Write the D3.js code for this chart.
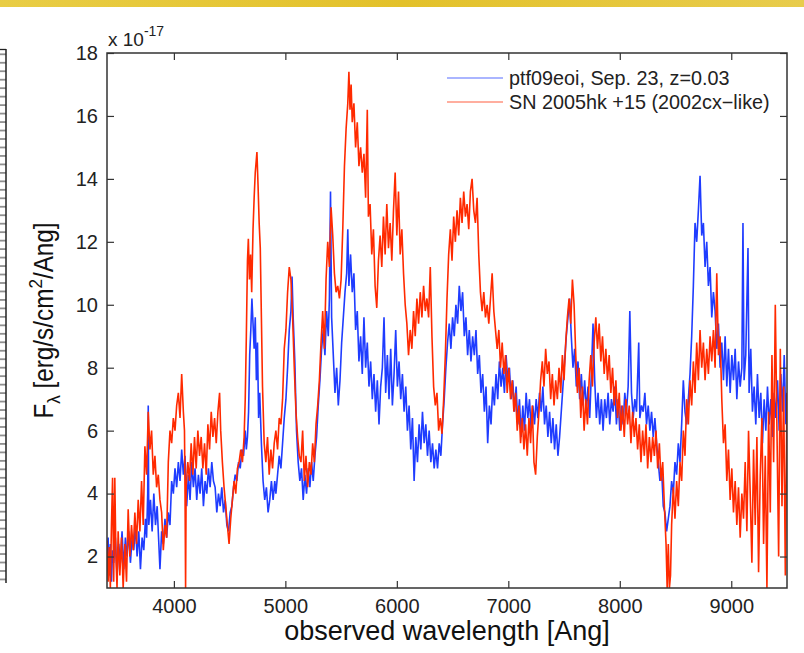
<!DOCTYPE html>
<html>
<head>
<meta charset="utf-8">
<script src="https://cdn.jsdelivr.net/npm/d3@7"></script>
<style>
  body { margin: 0; background: #fff; }
  svg { display: block; font-family: "Liberation Sans", Arial, Helvetica, sans-serif; }
</style>
</head>
<body>
<div id="chart"></div>
<script>
//Espectros: [longitud de onda (Ang), flujo (x 1e-17)]
const ptf09eoi = [[3400,1.6],[3410,2.6],[3420,1.4],[3430,2.4],[3440,1.2],[3450,2.2],[3460,1.8],[3475,2.6],[3490,1.4],[3505,2.4],[3520,1.8],[3535,2.8],[3550,1.6],[3565,2.6],[3580,2.0],[3595,2.8],[3610,1.8],[3625,2.6],[3640,2.2],[3655,3.0],[3670,2.0],[3685,2.8],[3700,1.6],[3715,2.6],[3730,2.2],[3745,3.2],[3755,2.6],[3765,4.0],[3770,6.8],[3775,3.0],[3790,3.8],[3805,2.8],[3820,4.0],[3835,3.0],[3850,3.6],[3865,2.4],[3875,1.6],[3890,2.8],[3905,2.4],[3920,3.2],[3935,2.6],[3950,3.4],[3965,3.0],[3980,4.4],[3995,4.0],[4010,4.8],[4025,4.2],[4040,5.0],[4055,4.4],[4070,5.4],[4085,4.6],[4100,5.2],[4115,3.6],[4130,4.6],[4145,3.8],[4160,5.0],[4175,4.2],[4190,4.8],[4205,3.8],[4220,4.6],[4235,4.0],[4250,4.8],[4265,3.6],[4280,4.4],[4295,4.0],[4310,4.8],[4325,4.2],[4340,5.0],[4355,4.4],[4370,4.2],[4385,3.4],[4400,4.0],[4415,3.6],[4430,4.2],[4445,3.4],[4460,3.8],[4475,3.0],[4490,2.8],[4505,3.4],[4520,3.6],[4535,4.2],[4550,4.6],[4565,4.4],[4580,5.0],[4595,4.8],[4610,5.4],[4625,5.2],[4640,6.0],[4650,5.4],[4660,5.8],[4670,6.6],[4680,8.4],[4690,9.2],[4700,10.2],[4710,9.4],[4720,8.6],[4730,9.6],[4740,7.6],[4750,8.8],[4760,6.4],[4770,7.2],[4785,5.6],[4800,4.4],[4815,3.8],[4830,4.2],[4845,3.4],[4860,3.8],[4875,4.4],[4890,3.8],[4905,4.4],[4915,4.0],[4930,4.6],[4945,5.2],[4960,4.8],[4975,5.6],[4990,6.4],[5005,7.0],[5020,8.0],[5035,9.2],[5050,9.8],[5060,10.9],[5070,9.6],[5085,8.2],[5100,6.0],[5115,5.0],[5130,4.4],[5145,4.8],[5160,3.8],[5175,4.6],[5190,4.0],[5205,4.8],[5220,4.2],[5235,5.0],[5250,4.4],[5265,5.2],[5280,5.8],[5295,6.8],[5310,7.6],[5325,8.6],[5340,9.2],[5355,8.4],[5370,9.8],[5385,9.0],[5395,10.2],[5405,13.6],[5415,9.6],[5430,8.4],[5445,7.2],[5460,8.0],[5475,6.8],[5490,7.6],[5505,8.8],[5520,9.6],[5535,10.4],[5550,11.0],[5560,12.4],[5570,10.6],[5585,11.6],[5600,10.4],[5615,11.0],[5630,9.2],[5645,9.8],[5660,8.2],[5675,9.0],[5690,7.8],[5705,9.6],[5720,8.0],[5735,8.8],[5750,7.4],[5765,8.2],[5780,7.0],[5795,7.8],[5810,6.6],[5825,7.6],[5840,6.2],[5855,7.4],[5870,8.0],[5885,9.6],[5900,7.2],[5915,8.4],[5930,7.0],[5945,8.6],[5960,6.8],[5975,7.8],[5990,9.2],[6005,7.4],[6020,8.2],[6035,7.0],[6050,7.8],[6065,6.6],[6080,7.4],[6095,6.0],[6110,6.8],[6125,5.4],[6140,6.4],[6155,4.4],[6170,5.8],[6185,5.0],[6200,6.2],[6215,5.4],[6230,6.6],[6245,5.6],[6260,6.2],[6275,5.2],[6290,6.0],[6305,5.0],[6320,5.6],[6335,4.8],[6350,5.4],[6365,4.8],[6380,5.6],[6395,5.2],[6410,6.2],[6425,7.0],[6440,8.0],[6455,8.8],[6470,9.4],[6485,8.6],[6500,9.6],[6515,9.0],[6530,10.0],[6545,9.4],[6560,10.6],[6575,9.8],[6590,10.4],[6605,9.0],[6620,9.6],[6635,8.4],[6650,9.2],[6665,8.2],[6680,9.0],[6695,8.4],[6710,9.2],[6725,7.8],[6740,8.4],[6755,7.2],[6770,7.8],[6785,6.6],[6800,7.4],[6815,5.6],[6830,6.8],[6845,6.2],[6860,7.4],[6875,6.8],[6890,7.8],[6905,7.0],[6920,8.2],[6935,7.4],[6950,8.0],[6965,7.2],[6980,8.4],[6995,7.6],[7010,8.0],[7025,7.0],[7040,7.6],[7055,6.6],[7070,7.4],[7085,6.2],[7100,7.0],[7115,5.8],[7130,6.8],[7145,6.0],[7160,7.2],[7175,6.4],[7190,7.0],[7205,6.0],[7220,6.8],[7235,6.2],[7250,7.0],[7265,6.4],[7280,7.2],[7295,6.6],[7310,7.4],[7325,6.2],[7340,6.8],[7355,5.8],[7370,6.6],[7385,5.6],[7400,6.4],[7415,5.4],[7430,6.2],[7445,5.2],[7460,5.8],[7475,6.6],[7490,7.4],[7505,8.2],[7520,9.0],[7535,9.6],[7550,10.2],[7565,9.0],[7580,8.0],[7595,8.6],[7610,7.4],[7625,8.2],[7640,7.0],[7655,7.8],[7670,6.8],[7685,7.6],[7700,6.6],[7715,7.4],[7730,6.4],[7745,7.8],[7760,9.4],[7775,7.6],[7790,6.4],[7805,7.2],[7820,6.2],[7835,7.0],[7850,6.0],[7865,7.0],[7880,6.4],[7895,7.2],[7910,6.2],[7925,7.0],[7940,6.6],[7955,7.4],[7970,6.2],[7985,7.0],[8000,6.0],[8015,6.8],[8030,6.2],[8045,7.2],[8060,6.6],[8075,7.4],[8090,9.8],[8105,7.2],[8120,6.4],[8135,7.0],[8150,6.6],[8170,8.8],[8180,6.4],[8195,6.8],[8210,6.6],[8225,7.2],[8240,6.2],[8255,6.8],[8270,6.0],[8285,6.6],[8300,5.8],[8315,6.4],[8330,5.6],[8345,5.0],[8360,4.4],[8375,4.8],[8390,3.6],[8405,3.4],[8420,2.8],[8435,3.2],[8450,3.6],[8465,4.4],[8480,4.0],[8495,5.0],[8510,4.6],[8525,5.6],[8540,5.0],[8555,6.2],[8570,7.6],[8585,6.6],[8600,6.2],[8615,7.0],[8630,7.8],[8645,9.0],[8660,10.6],[8675,12.6],[8690,12.0],[8705,13.0],[8720,14.1],[8735,12.2],[8750,12.6],[8765,11.2],[8780,12.0],[8795,10.6],[8810,11.2],[8825,9.6],[8840,10.4],[8855,9.8],[8870,8.6],[8885,9.4],[8900,8.0],[8915,8.8],[8930,7.6],[8945,9.0],[8960,7.4],[8975,8.6],[8990,7.2],[9005,8.4],[9020,7.6],[9035,8.6],[9050,7.0],[9065,8.2],[9080,7.4],[9095,8.0],[9105,12.6],[9115,7.6],[9130,8.4],[9150,11.8],[9160,7.2],[9175,8.6],[9190,6.6],[9205,7.4],[9220,6.2],[9235,7.8],[9250,6.4],[9265,7.2],[9280,5.6],[9295,7.0],[9310,6.0],[9325,7.4],[9340,6.2],[9355,7.0],[9370,5.8],[9385,7.2],[9400,6.4],[9415,7.6],[9430,6.0],[9445,7.8],[9460,6.6],[9475,8.4],[9490,6.2],[9500,7.2]];

const sn2005hk = [[3400,2.5],[3410,1.2],[3420,2.3],[3430,1.0],[3440,3.0],[3450,4.5],[3460,1.2],[3470,4.5],[3480,2.0],[3490,1.0],[3500,2.8],[3515,1.4],[3530,2.6],[3545,1.0],[3560,2.4],[3575,1.2],[3590,3.5],[3605,2.0],[3620,3.0],[3635,2.2],[3650,3.4],[3665,2.4],[3680,3.8],[3695,2.8],[3710,4.4],[3725,3.0],[3740,5.5],[3755,4.6],[3770,6.6],[3785,5.4],[3800,6.0],[3815,4.6],[3830,5.2],[3845,4.2],[3860,4.6],[3875,3.8],[3890,3.4],[3905,2.2],[3920,3.0],[3935,2.6],[3950,5.0],[3965,6.0],[3980,5.6],[3995,6.4],[4010,6.0],[4025,6.8],[4040,7.2],[4055,6.4],[4070,7.8],[4085,6.6],[4095,6.0],[4100,4.0],[4105,1.0],[4110,4.2],[4125,5.0],[4140,4.4],[4155,5.6],[4170,4.6],[4185,5.8],[4200,4.8],[4215,6.0],[4230,5.2],[4245,5.8],[4260,4.8],[4275,5.6],[4290,4.6],[4305,6.2],[4320,5.4],[4335,6.6],[4350,5.8],[4365,6.4],[4380,5.6],[4395,6.6],[4410,7.2],[4420,6.0],[4435,5.0],[4450,4.2],[4465,3.6],[4480,3.0],[4495,2.4],[4510,3.2],[4525,3.8],[4540,4.4],[4555,4.0],[4570,4.8],[4585,5.0],[4600,5.4],[4615,5.0],[4630,5.8],[4640,7.0],[4650,9.0],[4660,11.4],[4668,12.1],[4678,10.8],[4688,11.6],[4698,10.4],[4710,12.4],[4720,13.4],[4730,14.2],[4745,14.85],[4755,13.8],[4765,12.6],[4775,11.8],[4785,9.6],[4795,7.4],[4810,5.6],[4825,5.0],[4840,5.8],[4855,4.6],[4870,5.4],[4885,4.8],[4900,5.6],[4915,6.0],[4930,5.4],[4945,6.4],[4960,6.2],[4975,7.0],[4990,8.6],[5005,9.2],[5020,10.4],[5035,11.2],[5050,10.8],[5065,9.6],[5080,8.0],[5095,6.6],[5110,5.8],[5125,5.2],[5140,5.0],[5155,6.0],[5170,4.4],[5185,5.2],[5200,4.2],[5215,5.0],[5230,4.6],[5245,5.6],[5260,5.0],[5275,6.2],[5290,6.8],[5305,7.6],[5320,8.8],[5335,9.8],[5350,8.6],[5365,10.8],[5380,12.0],[5395,11.2],[5410,13.1],[5425,12.2],[5440,11.0],[5455,10.4],[5470,10.6],[5485,10.2],[5500,10.8],[5515,12.4],[5530,14.4],[5545,15.6],[5560,16.4],[5570,17.4],[5580,16.2],[5590,17.0],[5600,15.8],[5615,16.4],[5630,15.0],[5645,15.8],[5660,14.4],[5675,15.0],[5690,14.2],[5705,14.8],[5720,13.4],[5735,16.2],[5745,12.8],[5760,13.2],[5775,11.6],[5790,12.4],[5805,10.6],[5820,9.9],[5835,11.4],[5850,12.2],[5865,11.2],[5880,12.8],[5895,11.6],[5910,13.2],[5925,11.8],[5940,12.6],[5955,11.4],[5970,13.0],[5985,14.2],[6000,12.2],[6015,13.6],[6030,11.6],[6045,12.4],[6060,11.0],[6075,10.0],[6090,9.4],[6105,8.4],[6120,9.2],[6135,8.6],[6150,9.8],[6165,9.0],[6180,10.2],[6195,9.4],[6210,10.4],[6225,9.6],[6240,10.6],[6255,9.8],[6270,10.2],[6285,9.6],[6300,11.2],[6315,9.0],[6330,7.4],[6345,6.8],[6360,7.2],[6375,6.0],[6390,6.4],[6405,5.9],[6420,7.0],[6435,8.4],[6450,10.2],[6465,11.6],[6480,12.4],[6495,11.4],[6510,12.8],[6525,12.0],[6540,13.0],[6555,12.2],[6570,13.4],[6585,12.6],[6600,13.6],[6615,12.8],[6630,13.2],[6645,12.4],[6660,13.6],[6675,14.0],[6690,13.0],[6705,12.6],[6720,13.4],[6735,11.6],[6750,10.4],[6765,9.8],[6780,10.4],[6795,9.6],[6810,10.0],[6825,9.4],[6840,10.2],[6855,11.0],[6870,9.8],[6885,9.2],[6900,8.6],[6915,9.2],[6930,8.0],[6945,8.8],[6960,7.8],[6975,8.4],[6990,7.2],[7005,8.0],[7020,7.0],[7035,7.6],[7050,6.6],[7065,7.2],[7080,6.0],[7095,6.8],[7110,5.6],[7125,6.4],[7140,5.4],[7155,6.2],[7170,5.2],[7185,6.4],[7200,5.6],[7215,6.8],[7230,5.0],[7245,4.6],[7260,5.8],[7275,6.6],[7290,7.6],[7305,8.2],[7320,7.4],[7335,8.6],[7350,7.8],[7365,8.2],[7380,7.0],[7395,7.8],[7410,6.8],[7425,7.6],[7440,7.0],[7455,8.0],[7470,7.2],[7485,8.4],[7500,7.6],[7515,8.8],[7530,9.6],[7545,10.2],[7560,9.4],[7575,10.8],[7590,10.0],[7605,8.4],[7620,7.2],[7635,8.0],[7650,6.4],[7665,7.4],[7680,6.0],[7695,7.0],[7710,6.2],[7725,7.6],[7740,8.4],[7755,7.4],[7770,8.8],[7785,9.6],[7800,8.6],[7815,9.4],[7830,8.2],[7845,9.0],[7860,7.8],[7875,8.6],[7890,7.6],[7905,8.4],[7920,7.2],[7935,8.0],[7950,6.8],[7965,7.6],[7980,6.4],[7995,7.2],[8010,6.0],[8025,6.8],[8040,5.8],[8055,7.0],[8070,6.2],[8085,6.8],[8100,5.6],[8115,6.6],[8130,5.8],[8145,6.4],[8160,5.4],[8175,6.2],[8190,5.0],[8205,6.0],[8220,5.2],[8235,6.2],[8250,4.8],[8265,5.8],[8280,5.0],[8295,5.8],[8310,5.2],[8325,6.0],[8340,4.8],[8355,5.6],[8370,4.4],[8385,5.0],[8400,3.6],[8415,2.4],[8425,1.0],[8435,2.4],[8445,1.0],[8455,1.4],[8465,3.0],[8480,4.2],[8495,3.2],[8510,4.4],[8525,3.6],[8540,5.0],[8555,4.4],[8570,6.0],[8585,5.2],[8600,7.0],[8615,6.2],[8630,7.6],[8645,6.8],[8660,8.2],[8675,7.2],[8690,8.8],[8705,7.6],[8720,9.2],[8735,8.0],[8750,8.8],[8765,7.6],[8780,8.6],[8795,7.8],[8810,9.0],[8825,8.2],[8840,9.2],[8855,8.0],[8870,11.0],[8885,8.4],[8900,9.0],[8915,7.0],[8930,5.6],[8945,6.2],[8960,4.4],[8975,5.4],[8990,3.8],[9005,4.8],[9020,3.4],[9035,4.4],[9050,3.0],[9065,4.2],[9080,2.6],[9095,4.0],[9110,3.2],[9125,5.0],[9140,2.8],[9155,6.0],[9170,4.0],[9185,1.8],[9200,5.4],[9215,3.0],[9230,5.8],[9245,1.5],[9260,4.6],[9275,6.4],[9290,2.4],[9305,5.2],[9320,1.0],[9335,6.6],[9350,3.4],[9365,8.4],[9380,5.0],[9395,10.0],[9410,6.0],[9425,2.0],[9440,8.6],[9455,3.6],[9470,7.4],[9485,1.4],[9500,7.2]];

const xTicks = [4000, 5000, 6000, 7000, 8000, 9000];
const yTicks = [2, 4, 6, 8, 10, 12, 14, 16, 18];
const legendLabels = ['ptf09eoi, Sep. 23, z=0.03', 'SN 2005hk +15 (2002cx\u2212like)'];

//Colores
const COLOR_BLUE = '#1f3cff',
COLOR_RED = '#ff2a00',
COLOR_AXIS = '#333';

const W = 804, H = 653;
let margin = {top: 53, right: 17, bottom: 65, left: 107},
    width = W - margin.left - margin.right,
    height = H - margin.top - margin.bottom;

let root = d3.select('#chart').append('svg')
    .attr('width', W)
    .attr('height', H);

//Franja superior de la diapositiva
let grad = root.append('defs').append('linearGradient').attr('id', 'band');
grad.append('stop').attr('offset', '0%').attr('stop-color', '#e9cd45');
grad.append('stop').attr('offset', '50%').attr('stop-color', '#e3c12a');
grad.append('stop').attr('offset', '100%').attr('stop-color', '#e8cc4c');
root.append('rect').attr('x', 0).attr('y', 0).attr('width', W).attr('height', 7).attr('fill', 'url(#band)');

//Borde izquierdo (tabla recortada)
let ruler = root.append('g');
ruler.selectAll('line.t')
    .data(d3.range(54.3, 582, 8.47))
    .enter().append('line')
    .attr('x1', 0).attr('x2', 6)
    .attr('y1', d => d).attr('y2', d => d)
    .attr('stroke', '#8f8f8f').attr('stroke-width', 1.8);
ruler.append('line').attr('x1', 0).attr('x2', 6).attr('y1', 49.5).attr('y2', 49.5).attr('stroke', '#222').attr('stroke-width', 1.3);
ruler.append('line').attr('x1', 6).attr('x2', 6).attr('y1', 49).attr('y2', 583).attr('stroke', '#222').attr('stroke-width', 1.5);

let svg = root.append('g')
    .attr('transform', 'translate(' + margin.left + ',' + margin.top + ')');

let x = d3.scaleLinear().domain([3400, 9500]).range([0, width]);
let y = d3.scaleLinear().domain([1, 18]).range([height, 0]);

svg.append('clipPath').attr('id', 'plotclip')
    .append('rect').attr('width', width).attr('height', height);

let line = d3.line()
    .x(d => x(d[0]))
    .y(d => y(d[1]));

let lines = svg.append('g').attr('clip-path', 'url(#plotclip)');
lines.append('path').datum(ptf09eoi)
    .attr('d', line).attr('fill', 'none')
    .attr('stroke', COLOR_BLUE).attr('stroke-width', 1.6).attr('stroke-linejoin', 'miter');
lines.append('path').datum(sn2005hk)
    .attr('d', line).attr('fill', 'none')
    .attr('stroke', COLOR_RED).attr('stroke-width', 1.6).attr('stroke-linejoin', 'miter');

//Ejes estilo caja, marcas hacia dentro
function styleAxis(g) {
    g.select('.domain').remove();
    g.selectAll('.tick line').attr('stroke', COLOR_AXIS).attr('stroke-width', 1.2);
    g.selectAll('.tick text').attr('fill', '#222').style('font-size', '20px');
}

svg.append('g').attr('transform', 'translate(0,' + height + ')')
    .call(d3.axisBottom(x).tickValues(xTicks).tickSize(-7).tickPadding(11).tickFormat(d3.format('d')))
    .call(styleAxis);
svg.append('g')
    .call(d3.axisTop(x).tickValues(xTicks).tickSize(-7).tickFormat(''))
    .call(styleAxis);
svg.append('g')
    .call(d3.axisLeft(y).tickValues(yTicks).tickSize(-7).tickPadding(9))
    .call(styleAxis);
svg.append('g').attr('transform', 'translate(' + width + ',0)')
    .call(d3.axisRight(y).tickValues(yTicks).tickSize(-7).tickFormat(''))
    .call(styleAxis);

svg.append('rect')
    .attr('width', width).attr('height', height)
    .attr('fill', 'none').attr('stroke', COLOR_AXIS).attr('stroke-width', 1.5);

//Multiplicador
let mult = svg.append('text').attr('x', 1).attr('y', -7).attr('fill', '#222').style('font-size', '19px');
mult.append('tspan').text('x 10');
mult.append('tspan').attr('dy', -10).style('font-size', '14px').text('-17');

//Leyenda
let legend = svg.append('g').attr('transform', 'translate(' + (447 - margin.left) + ',' + (78 - margin.top) + ')');
let legendColors = [COLOR_BLUE, COLOR_RED];
legendLabels.forEach(function(label, i) {
    let row = legend.append('g').attr('transform', 'translate(0,' + (i * 24) + ')');
    row.append('line').attr('x1', 0).attr('x2', 56).attr('y1', 0).attr('y2', 0)
        .attr('stroke', legendColors[i]).attr('stroke-width', 1.2).attr('opacity', 0.75);
    row.append('text').attr('x', 62).attr('y', 7).attr('fill', '#222')
        .style('font-size', '19.8px').text(label);
});

//Etiquetas de ejes
svg.append('text')
    .attr('x', width / 2).attr('y', height + 52)
    .attr('text-anchor', 'middle').attr('fill', '#111')
    .style('font-size', '27px')
    .text('observed wavelength [Ang]');

let yl = svg.append('text')
    .attr('transform', 'translate(' + (53 - margin.left) + ',' + (height / 2) + ') rotate(-90) scale(0.9,1)')
    .attr('text-anchor', 'middle').attr('fill', '#111')
    .style('font-size', '27px');
yl.append('tspan').text('F');
yl.append('tspan').attr('dy', 7).style('font-size', '19px').text('\u03bb');
yl.append('tspan').attr('dy', -7).text(' [erg/s/cm');
yl.append('tspan').attr('dy', -11).style('font-size', '19px').text('2');
yl.append('tspan').attr('dy', 11).text('/Ang]');
</script>
</body>
</html>
